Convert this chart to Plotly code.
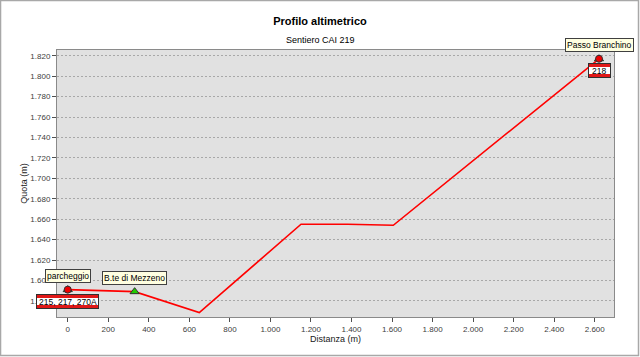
import plotly.graph_objects as go

# Profile data (distance in m, elevation in m)
dist = [0, 330, 649, 1151, 1381, 1606, 2621]
elev = [1591, 1589, 1568.5, 1655, 1655, 1654, 1817]

# Waypoints (tooltip labels, green triangles)
wp_names = ["parcheggio", "B.te di Mezzeno", "Passo Branchino"]
wp_dist = [0, 330, 2621]
wp_elev = [1591, 1589, 1817]

# Trail junctions (red dots, red label boxes)
tr_names = ["215, 217, 270A", "218"]
tr_dist = [0, 2621]
tr_elev = [1591, 1817]
tr_box_w = [61, 21]

FONT = "Liberation Sans, Arial, sans-serif"

fig = go.Figure()
fig.add_trace(go.Scatter(x=dist, y=elev, mode="lines",
                         line=dict(color="#FF0000", width=1.6), hoverinfo="skip"))
fig.add_trace(go.Scatter(x=wp_dist, y=wp_elev, mode="markers",
                         marker=dict(symbol="triangle-up", size=8, color="#22CC00",
                                     line=dict(color="#303030", width=1)), hoverinfo="skip"))
fig.add_trace(go.Scatter(x=tr_dist, y=tr_elev, mode="markers",
                         marker=dict(symbol="circle", size=7, color="#EE0000",
                                     line=dict(color="#303030", width=1)), hoverinfo="skip"))

anns = []
for n, x, y in zip(wp_names, wp_dist, wp_elev):
    anns.append(dict(x=x, y=y, xref="x", yref="y", text=n, showarrow=False,
                     yshift=14, yanchor="middle", xanchor="center",
                     font=dict(family=FONT, size=8.5, color="#000000"),
                     bgcolor="#FFFFE1", bordercolor="#404040", borderwidth=1, borderpad=1))
for n, x, y, w in zip(tr_names, tr_dist, tr_elev, tr_box_w):
    # red outer box
    anns.append(dict(x=x, y=y, xref="x", yref="y", text="&nbsp;", showarrow=False,
                     yshift=-12, yanchor="middle", xanchor="center", width=w, height=13,
                     font=dict(family=FONT, size=3, color="#E01818"),
                     bgcolor="#E01818", bordercolor="#303030", borderwidth=1, borderpad=0))
    # white inner band
    anns.append(dict(x=x, y=y, xref="x", yref="y", text="&nbsp;", showarrow=False,
                     yshift=-12, yanchor="middle", xanchor="center", width=w, height=7,
                     font=dict(family=FONT, size=3, color="#FFFFFF"),
                     bgcolor="#FFFFFF", borderwidth=0, borderpad=0))
    # label text
    anns.append(dict(x=x, y=y, xref="x", yref="y", text=n, showarrow=False,
                     yshift=-12, yanchor="middle", xanchor="center",
                     font=dict(family=FONT, size=8.5, color="#000000"),
                     borderwidth=0, borderpad=0))
anns.append(dict(x=0.4722, y=1.0356, xref="paper", yref="paper", text="Sentiero CAI 219",
                 showarrow=False, xanchor="center", yanchor="middle",
                 font=dict(family=FONT, size=9, color="#000000")))

fig.update_layout(
    width=640, height=357,
    margin=dict(l=57, r=26, t=50, b=40),
    paper_bgcolor="#FFFFFF", plot_bgcolor="#E1E1E1",
    showlegend=False,
    separators=",.",
    title=dict(text="<b>Profilo altimetrico</b>", x=0.5, xref="container",
               y=1 - 21 / 357, yref="container", xanchor="center", yanchor="middle",
               font=dict(family=FONT, size=11, color="#000000")),
    annotations=anns,
    shapes=[dict(type="rect", xref="paper", yref="paper",
                 x0=-0.1014, x1=1.0440, y0=-0.1442, y1=1.1854,
                 line=dict(color="#A8A8A8", width=1.5), layer="below")],
)
fig.update_xaxes(range=[-53, 2695], tick0=0, dtick=200, tickformat=",d",
                 showgrid=False, zeroline=False,
                 showline=True, linecolor="#8A8A8A", linewidth=1, mirror=True,
                 ticks="outside", ticklen=4, tickcolor="#505050",
                 tickfont=dict(family=FONT, size=8, color="#404040"),
                 title=dict(text="Distanza (m)", standoff=1,
                            font=dict(family=FONT, size=9, color="#202020")))
fig.update_yaxes(range=[1564.2, 1825.6], tick0=1580, dtick=20, tickformat=",d",
                 showgrid=True, gridcolor="#A8A8A8", griddash="2px,2px", gridwidth=1,
                 zeroline=False,
                 showline=True, linecolor="#8A8A8A", linewidth=1, mirror=True,
                 ticks="outside", ticklen=4, tickcolor="#505050",
                 tickfont=dict(family=FONT, size=8, color="#404040"),
                 title=dict(text="Quota (m)", standoff=1,
                            font=dict(family=FONT, size=9, color="#202020")))

fig.write_html("out.html")
